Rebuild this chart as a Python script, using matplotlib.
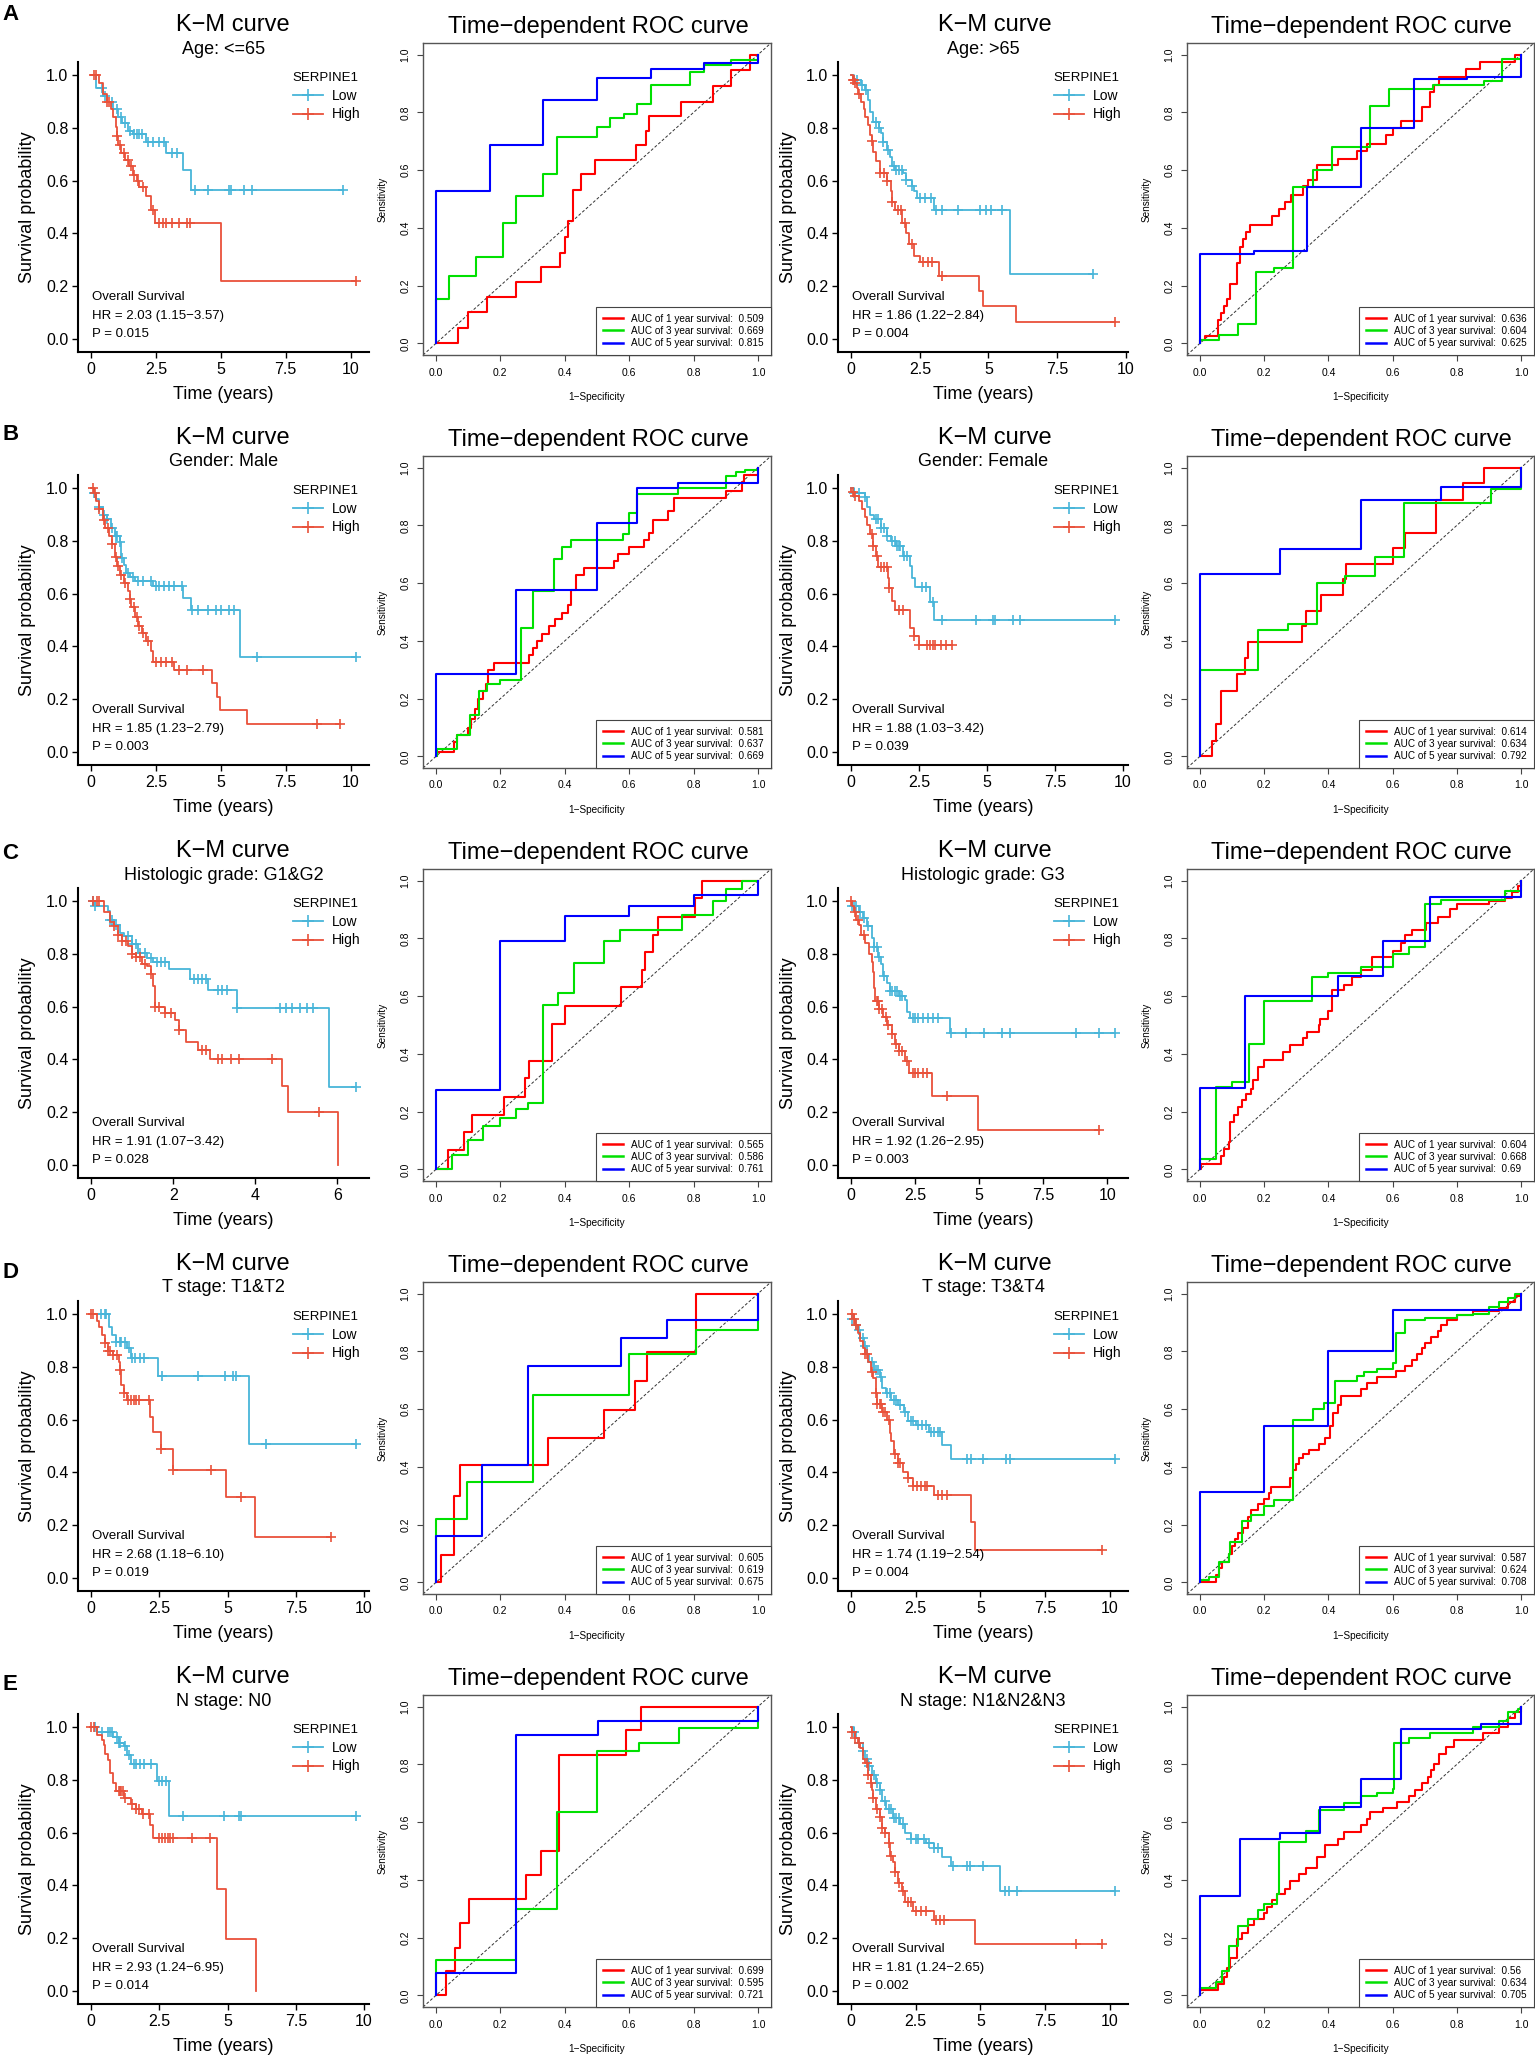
import numpy as np
import matplotlib
matplotlib.use("Agg")
import matplotlib.pyplot as plt
from matplotlib.lines import Line2D

plt.rcParams['font.family'] = ['Liberation Sans', 'DejaVu Sans']

# ---------------- K-M data: (time, survival after step) + censor times ----------------
A1_LOW = [(0.2, 0.95), (0.45, 0.92), (0.6, 0.90), (0.85, 0.87), (1.05, 0.84), (1.2, 0.82), (1.4, 0.79),
          (1.6, 0.775), (2.1, 0.745), (2.9, 0.705), (3.55, 0.64), (3.85, 0.566)]
A1_LOW_C = [0.4, 0.55, 0.8, 1.0, 1.15, 1.3, 1.5, 1.65, 1.75, 1.85, 1.95, 2.2, 2.4, 2.6, 2.8, 3.1, 3.3,
            4.0, 4.5, 5.3, 5.4, 5.9, 6.2, 9.7]
A1_HIGH = [(0.3, 0.97), (0.45, 0.93), (0.6, 0.90), (0.75, 0.87), (0.85, 0.84), (0.95, 0.805), (1.0, 0.77),
           (1.05, 0.736), (1.15, 0.704), (1.3, 0.68), (1.45, 0.655), (1.6, 0.623), (1.75, 0.60),
           (1.85, 0.575), (2.1, 0.54), (2.3, 0.49), (2.45, 0.438), (5.0, 0.22)]
A1_HIGH_C = [0.1, 0.2, 0.6, 0.7, 1.0, 1.1, 1.25, 1.4, 1.55, 1.65, 1.8, 2.0, 2.4, 2.6, 2.75, 2.9, 3.1,
             3.4, 3.7, 3.8, 10.2]

A2_LOW = [(0.1, 0.98), (0.35, 0.962), (0.5, 0.943), (0.6, 0.905), (0.7, 0.86), (0.8, 0.824), (1.0, 0.80),
          (1.1, 0.78), (1.15, 0.748), (1.3, 0.717), (1.4, 0.69), (1.5, 0.654), (1.6, 0.64), (1.9, 0.629),
          (2.0, 0.604), (2.2, 0.58), (2.3, 0.56), (2.4, 0.535), (3.0, 0.49), (5.77, 0.245)]
A2_LOW_C = [0.2, 0.4, 0.55, 0.9, 1.0, 1.15, 1.35, 1.55, 1.65, 1.75, 1.85, 2.0, 2.2, 2.5, 2.7, 2.9, 3.1,
            3.3, 3.9, 4.7, 4.9, 5.1, 5.5, 8.8]
A2_HIGH = [(0.05, 0.98), (0.15, 0.97), (0.2, 0.95), (0.25, 0.93), (0.35, 0.90), (0.45, 0.87), (0.5, 0.843),
           (0.6, 0.81), (0.7, 0.774), (0.75, 0.75), (0.8, 0.71), (0.9, 0.675), (1.05, 0.63), (1.3, 0.597),
           (1.45, 0.56), (1.5, 0.52), (1.6, 0.49), (1.85, 0.44), (2.0, 0.40), (2.1, 0.36), (2.3, 0.315),
           (2.5, 0.29), (3.2, 0.24), (4.65, 0.18), (4.8, 0.123), (6.0, 0.063)]
A2_HIGH_C = [0.05, 0.1, 0.15, 0.3, 0.75, 1.05, 1.2, 1.3, 1.5, 1.7, 1.8, 1.95, 2.2, 2.6, 2.8, 2.95, 3.3, 9.6]

B1_LOW = [(0.1, 0.98), (0.2, 0.96), (0.3, 0.93), (0.45, 0.90), (0.6, 0.885), (0.75, 0.85), (0.9, 0.82),
          (1.1, 0.794), (1.15, 0.737), (1.25, 0.71), (1.35, 0.68), (1.5, 0.662), (1.7, 0.649), (2.4, 0.63),
          (3.55, 0.583), (3.85, 0.538), (5.75, 0.359)]
B1_LOW_C = [0.1, 0.3, 0.5, 0.6, 0.8, 0.95, 1.0, 1.1, 1.2, 1.4, 1.6, 1.8, 2.0, 2.3, 2.5, 2.6, 2.8, 3.0, 3.2,
            3.5, 3.9, 4.1, 4.5, 4.8, 5.0, 5.3, 5.5, 6.4, 10.2]
B1_HIGH = [(0.1, 0.98), (0.2, 0.95), (0.3, 0.92), (0.45, 0.88), (0.55, 0.85), (0.7, 0.82), (0.8, 0.79),
           (0.9, 0.74), (1.0, 0.703), (1.1, 0.67), (1.25, 0.64), (1.4, 0.61), (1.5, 0.58), (1.55, 0.548),
           (1.7, 0.51), (1.8, 0.479), (1.95, 0.45), (2.1, 0.422), (2.3, 0.384), (2.4, 0.34), (3.2, 0.311),
           (4.65, 0.26), (4.85, 0.207), (4.95, 0.157), (6.0, 0.104)]
B1_HIGH_C = [0.05, 0.15, 0.3, 0.5, 0.65, 0.8, 0.95, 1.05, 1.15, 1.3, 1.5, 1.65, 1.75, 1.85, 2.0, 2.2, 2.5,
             2.7, 2.9, 3.1, 3.4, 3.7, 4.3, 8.7, 9.6]

B2_LOW = [(0.1, 0.98), (0.5, 0.967), (0.6, 0.93), (0.7, 0.90), (0.85, 0.883), (1.1, 0.85), (1.3, 0.82),
          (1.45, 0.80), (1.65, 0.78), (1.9, 0.744), (2.15, 0.706), (2.25, 0.66), (2.35, 0.624),
          (2.9, 0.567), (3.05, 0.501)]
B2_LOW_C = [0.1, 0.3, 0.5, 0.9, 1.0, 1.1, 1.2, 1.3, 1.5, 1.6, 1.7, 1.75, 1.8, 1.95, 2.05, 2.6, 2.75, 3.0,
            3.35, 4.6, 5.2, 5.3, 5.95, 6.2, 9.7]
B2_HIGH = [(0.0, 0.985), (0.1, 0.97), (0.3, 0.95), (0.4, 0.92), (0.5, 0.889), (0.6, 0.86), (0.7, 0.828),
           (0.8, 0.78), (0.9, 0.744), (1.0, 0.70), (1.35, 0.66), (1.4, 0.62), (1.5, 0.571), (1.6, 0.537),
           (2.15, 0.471), (2.3, 0.44), (2.5, 0.404)]
B2_HIGH_C = [0.05, 0.15, 0.75, 0.8, 0.95, 1.1, 1.2, 1.3, 1.4, 1.75, 1.9, 2.3, 2.5, 2.8, 2.9, 3.0, 3.1,
             3.3, 3.5, 3.7]

C1_LOW = [(0.1, 0.98), (0.4, 0.962), (0.45, 0.93), (0.55, 0.91), (0.7, 0.88), (0.8, 0.867), (1.0, 0.836),
          (1.15, 0.804), (1.35, 0.785), (1.5, 0.77), (1.9, 0.741), (2.4, 0.706), (2.85, 0.663),
          (3.55, 0.596), (5.8, 0.297)]
C1_LOW_C = [0.05, 0.1, 0.45, 0.5, 0.6, 0.9, 1.0, 1.1, 1.2, 1.3, 1.45, 1.6, 1.7, 1.8, 2.5, 2.6, 2.7, 2.8,
            3.1, 3.2, 3.3, 3.55, 4.6, 4.75, 4.9, 5.1, 5.25, 5.4, 6.45]
C1_HIGH = [(0.3, 0.96), (0.45, 0.92), (0.55, 0.905), (0.65, 0.87), (0.75, 0.85), (0.9, 0.83), (1.0, 0.80),
           (1.1, 0.79), (1.25, 0.76), (1.35, 0.754), (1.45, 0.722), (1.5, 0.68), (1.55, 0.60), (1.8, 0.577),
           (2.05, 0.55), (2.15, 0.51), (2.3, 0.467), (2.6, 0.434), (2.9, 0.40), (4.65, 0.299),
           (4.8, 0.202), (6.02, 0.0)]
C1_HIGH_C = [0.05, 0.15, 0.2, 0.55, 0.65, 0.75, 0.85, 1.0, 1.1, 1.2, 1.3, 1.45, 1.55, 1.65, 1.8, 1.95,
             2.15, 2.7, 2.8, 3.1, 3.2, 3.4, 3.6, 4.4, 5.55]

C2_LOW = [(0.05, 0.98), (0.3, 0.96), (0.45, 0.937), (0.6, 0.905), (0.8, 0.86), (0.9, 0.826), (1.05, 0.79),
          (1.15, 0.76), (1.25, 0.716), (1.4, 0.69), (1.5, 0.659), (1.85, 0.64), (2.1, 0.624), (2.2, 0.58),
          (2.3, 0.558), (3.85, 0.501)]
C2_LOW_C = [0.05, 0.1, 0.2, 0.35, 0.5, 0.65, 0.9, 1.0, 1.1, 1.3, 1.5, 1.6, 1.7, 1.8, 1.9, 2.0, 2.4, 2.5,
            2.6, 2.8, 3.0, 3.2, 3.4, 3.9, 4.5, 5.2, 5.9, 6.2, 8.8, 9.7, 10.3]
C2_HIGH = [(0.05, 0.98), (0.1, 0.96), (0.2, 0.93), (0.3, 0.909), (0.4, 0.87), (0.55, 0.843), (0.7, 0.80),
           (0.8, 0.77), (0.85, 0.73), (0.9, 0.669), (0.95, 0.62), (1.1, 0.59), (1.25, 0.56), (1.4, 0.53),
           (1.6, 0.495), (1.7, 0.46), (1.85, 0.432), (2.1, 0.394), (2.25, 0.35), (3.15, 0.261),
           (4.95, 0.131)]
C2_HIGH_C = [0.0, 0.15, 0.25, 0.5, 1.0, 1.05, 1.1, 1.2, 1.35, 1.45, 1.6, 1.75, 1.85, 2.0, 2.2, 2.4, 2.5,
             2.6, 2.8, 2.95, 3.75, 9.7]

D1_LOW = [(0.65, 0.952), (0.75, 0.92), (0.9, 0.895), (1.3, 0.87), (1.45, 0.835), (2.45, 0.767),
          (5.8, 0.508)]
D1_LOW_C = [0.35, 0.5, 0.55, 0.9, 1.05, 1.1, 1.25, 1.4, 1.5, 1.6, 1.8, 1.95, 2.6, 3.9, 4.9, 5.2, 5.3,
            6.4, 9.7]
D1_HIGH = [(0.2, 0.975), (0.3, 0.952), (0.4, 0.92), (0.5, 0.89), (0.6, 0.86), (0.8, 0.845), (1.0, 0.82),
           (1.05, 0.79), (1.1, 0.731), (1.2, 0.70), (1.3, 0.675), (2.15, 0.61), (2.25, 0.552),
           (2.55, 0.489), (3.0, 0.41), (4.95, 0.308), (6.0, 0.154)]
D1_HIGH_C = [0.0, 0.05, 0.5, 0.6, 0.7, 0.8, 0.95, 1.05, 1.2, 1.35, 1.45, 1.55, 1.65, 1.75, 2.1, 2.55, 3.0,
             4.4, 5.5, 8.8]

D2_LOW = [(0.05, 0.98), (0.15, 0.96), (0.25, 0.94), (0.35, 0.91), (0.5, 0.88), (0.6, 0.85), (0.7, 0.82),
          (0.9, 0.788), (1.1, 0.76), (1.2, 0.719), (1.35, 0.70), (1.55, 0.675), (1.8, 0.656), (2.05, 0.63),
          (2.2, 0.595), (2.5, 0.58), (3.0, 0.555), (3.5, 0.505), (3.85, 0.45)]
D2_LOW_C = [0.05, 0.2, 0.3, 0.45, 0.55, 0.8, 0.95, 1.05, 1.15, 1.4, 1.5, 1.65, 1.75, 1.9, 2.1, 2.3, 2.4,
            2.6, 2.75, 2.9, 3.1, 3.2, 3.35, 3.45, 4.5, 4.65, 5.1, 6.0, 6.15, 10.2]
D2_HIGH = [(0.1, 0.98), (0.15, 0.96), (0.25, 0.93), (0.35, 0.90), (0.45, 0.87), (0.55, 0.85), (0.65, 0.82),
           (0.75, 0.78), (0.85, 0.757), (0.95, 0.70), (1.0, 0.66), (1.2, 0.63), (1.4, 0.60), (1.5, 0.55),
           (1.55, 0.52), (1.65, 0.47), (1.8, 0.435), (2.0, 0.40), (2.2, 0.378), (2.4, 0.347),
           (3.2, 0.315), (4.65, 0.21), (4.8, 0.105)]
D2_HIGH_C = [0.05, 0.1, 0.2, 0.55, 0.6, 0.8, 0.95, 1.0, 1.1, 1.15, 1.25, 1.3, 1.45, 1.7, 1.8, 1.9, 2.2,
             2.4, 2.55, 2.7, 2.85, 2.95, 3.35, 3.5, 3.7, 9.7]

E1_LOW = [(0.2, 0.982), (0.8, 0.962), (1.0, 0.94), (1.2, 0.928), (1.3, 0.896), (1.45, 0.862),
          (2.4, 0.795), (2.85, 0.663)]
E1_LOW_C = [0.15, 0.4, 0.6, 0.7, 0.75, 0.95, 1.0, 1.05, 1.25, 1.4, 1.55, 1.65, 1.8, 1.95, 2.2, 2.5, 2.6,
            2.75, 3.35, 4.85, 5.4, 5.5, 9.7]
E1_HIGH = [(0.2, 0.97), (0.4, 0.95), (0.45, 0.934), (0.5, 0.90), (0.6, 0.877), (0.7, 0.827), (0.8, 0.79),
           (0.9, 0.757), (1.2, 0.732), (1.45, 0.71), (1.65, 0.69), (1.85, 0.669), (2.15, 0.63),
           (2.25, 0.58), (4.6, 0.385), (4.95, 0.196), (6.05, 0.0)]
E1_HIGH_C = [0.0, 0.1, 1.0, 1.05, 1.1, 1.15, 1.25, 1.5, 1.65, 1.75, 1.9, 2.1, 2.5, 2.6, 2.7, 2.8, 2.9,
             3.0, 3.7, 4.35]

E2_LOW = [(0.1, 0.98), (0.2, 0.96), (0.3, 0.94), (0.45, 0.909), (0.55, 0.88), (0.65, 0.852), (0.8, 0.82),
          (0.95, 0.79), (1.1, 0.76), (1.2, 0.72), (1.35, 0.689), (1.6, 0.657), (1.9, 0.631), (2.1, 0.60),
          (2.3, 0.576), (2.9, 0.56), (3.2, 0.54), (3.5, 0.509), (3.85, 0.473), (5.75, 0.379)]
E2_LOW_C = [0.1, 0.3, 0.45, 0.6, 0.7, 0.9, 1.0, 1.1, 1.3, 1.45, 1.55, 1.65, 1.75, 1.85, 2.0, 2.3, 2.5,
            2.6, 2.8, 3.0, 3.2, 3.35, 3.95, 4.5, 4.6, 5.1, 5.95, 6.1, 6.4, 10.2]
E2_HIGH = [(0.05, 0.98), (0.15, 0.96), (0.25, 0.94), (0.35, 0.922), (0.45, 0.88), (0.55, 0.865),
           (0.65, 0.82), (0.75, 0.79), (0.8, 0.76), (0.85, 0.732), (0.95, 0.689), (1.1, 0.66), (1.2, 0.619),
           (1.3, 0.60), (1.45, 0.56), (1.5, 0.51), (1.6, 0.49), (1.7, 0.45), (1.8, 0.41), (1.95, 0.38),
           (2.1, 0.338), (2.4, 0.303), (3.2, 0.268), (4.8, 0.179)]
E2_HIGH_C = [0.05, 0.15, 0.3, 0.6, 0.65, 0.75, 0.85, 1.0, 1.1, 1.2, 1.3, 1.45, 1.55, 1.7, 1.85, 2.0, 2.2,
             2.3, 2.5, 2.7, 2.9, 3.3, 3.45, 3.6, 8.7, 9.7]

# ---------------- ROC data: (1-specificity, sensitivity) step vertices ----------------
A1_R1 = [(0, 0), (0.068, 0.054), (0.1, 0.11), (0.158, 0.162), (0.248, 0.214), (0.326, 0.266), (0.386, 0.314),
         (0.40, 0.37), (0.41, 0.424), (0.424, 0.532), (0.45, 0.586), (0.493, 0.636), (0.621, 0.686),
         (0.651, 0.736), (0.66, 0.786), (0.762, 0.836), (0.86, 0.892), (0.917, 0.946), (0.975, 1.0), (1.0, 1.0)]
A1_R3 = [(0, 0), (0, 0.155), (0.042, 0.235), (0.125, 0.30), (0.207, 0.418), (0.25, 0.509), (0.333, 0.586),
         (0.376, 0.713), (0.5, 0.748), (0.54, 0.78), (0.583, 0.795), (0.625, 0.83), (0.667, 0.894),
         (0.79, 0.939), (0.833, 0.963), (0.917, 0.98), (1.0, 1.0)]
A1_R5 = [(0, 0), (0, 0.526), (0.167, 0.686), (0.333, 0.844), (0.5, 0.92), (0.667, 0.95), (0.833, 0.97),
         (1.0, 1.0)]

A2_R1 = [(0, 0), (0.0, 0.012), (0.015, 0.025), (0.055, 0.08), (0.065, 0.105), (0.075, 0.13), (0.085, 0.155),
         (0.095, 0.205), (0.115, 0.28), (0.125, 0.335), (0.135, 0.36), (0.145, 0.385), (0.155, 0.41),
         (0.225, 0.44), (0.245, 0.465), (0.265, 0.49), (0.283, 0.515), (0.32, 0.545), (0.337, 0.566),
         (0.364, 0.616), (0.43, 0.64), (0.49, 0.665), (0.52, 0.69), (0.58, 0.72), (0.6, 0.745), (0.625, 0.77),
         (0.69, 0.818), (0.715, 0.869), (0.73, 0.895), (0.745, 0.922), (0.827, 0.95), (0.873, 0.975),
         (0.98, 1.0), (1.0, 1.0)]
A2_R3 = [(0, 0), (0, 0.012), (0.061, 0.028), (0.119, 0.066), (0.176, 0.249), (0.23, 0.262), (0.29, 0.54),
         (0.352, 0.599), (0.41, 0.679), (0.53, 0.823), (0.59, 0.882), (0.727, 0.894), (0.884, 0.907),
         (0.939, 0.986), (1.0, 1.0)]
A2_R5 = [(0, 0), (0, 0.31), (0.168, 0.32), (0.334, 0.54), (0.5, 0.746), (0.666, 0.916), (0.833, 0.922),
         (1.0, 1.0)]

B1_R1 = [(0, 0), (0.005, 0.015), (0.055, 0.05), (0.065, 0.075), (0.1, 0.1), (0.11, 0.13), (0.12, 0.165),
         (0.13, 0.2), (0.145, 0.225), (0.155, 0.25), (0.162, 0.3), (0.18, 0.324), (0.29, 0.35), (0.3, 0.375),
         (0.315, 0.4), (0.33, 0.425), (0.35, 0.45), (0.37, 0.475), (0.39, 0.497), (0.41, 0.525),
         (0.42, 0.575), (0.435, 0.627), (0.46, 0.653), (0.553, 0.675), (0.565, 0.7), (0.6, 0.725),
         (0.645, 0.75), (0.66, 0.775), (0.675, 0.82), (0.72, 0.85), (0.74, 0.896), (0.9, 0.92), (0.95, 0.95),
         (0.955, 0.975), (1.0, 1.0)]
B1_R3 = [(0, 0), (0.005, 0.025), (0.065, 0.075), (0.105, 0.145), (0.135, 0.225), (0.16, 0.25), (0.2, 0.266),
         (0.265, 0.445), (0.3, 0.572), (0.365, 0.682), (0.39, 0.725), (0.42, 0.748), (0.58, 0.77),
         (0.6, 0.842), (0.625, 0.907), (0.75, 0.93), (0.9, 0.97), (0.93, 0.985), (0.96, 0.99), (1.0, 1.0)]
B1_R5 = [(0, 0), (0, 0.287), (0.25, 0.576), (0.5, 0.809), (0.625, 0.93), (0.75, 0.948), (1.0, 1.0)]

B2_R1 = [(0, 0), (0.038, 0.055), (0.05, 0.113), (0.065, 0.225), (0.115, 0.286), (0.14, 0.341),
         (0.15, 0.397), (0.318, 0.451), (0.33, 0.505), (0.378, 0.56), (0.447, 0.615), (0.455, 0.667),
         (0.6, 0.722), (0.64, 0.775), (0.735, 0.887), (0.82, 0.946), (0.885, 1.0), (1.0, 1.0)]
B2_R3 = [(0, 0), (0, 0.298), (0.181, 0.439), (0.273, 0.46), (0.364, 0.599), (0.453, 0.624), (0.545, 0.69),
         (0.636, 0.876), (0.907, 0.927), (1.0, 1.0)]
B2_R5 = [(0, 0), (0, 0.63), (0.25, 0.717), (0.5, 0.888), (0.75, 0.933), (1.0, 1.0)]

C1_R1 = [(0, 0), (0.039, 0.067), (0.087, 0.128), (0.113, 0.188), (0.212, 0.252), (0.275, 0.316),
         (0.29, 0.376), (0.361, 0.504), (0.4, 0.566), (0.576, 0.631), (0.639, 0.691), (0.65, 0.753),
         (0.675, 0.813), (0.69, 0.873), (0.805, 0.94), (0.825, 1.0), (1.0, 1.0)]
C1_R3 = [(0, 0), (0.05, 0.05), (0.1, 0.102), (0.147, 0.15), (0.2, 0.179), (0.25, 0.209), (0.285, 0.229),
         (0.332, 0.57), (0.38, 0.61), (0.43, 0.714), (0.523, 0.79), (0.57, 0.83), (0.764, 0.88),
         (0.86, 0.93), (0.9, 0.97), (0.95, 1.0), (1.0, 1.0)]
C1_R5 = [(0, 0), (0, 0.275), (0.2, 0.79), (0.4, 0.876), (0.6, 0.913), (0.8, 0.949), (1.0, 1.0)]

C2_R1 = [(0, 0), (0.005, 0.02), (0.065, 0.045), (0.075, 0.07), (0.09, 0.095), (0.095, 0.165), (0.105, 0.19),
         (0.12, 0.215), (0.13, 0.24), (0.145, 0.26), (0.16, 0.28), (0.165, 0.31), (0.18, 0.355), (0.2, 0.38),
         (0.26, 0.405), (0.28, 0.43), (0.32, 0.455), (0.335, 0.475), (0.37, 0.5), (0.375, 0.52), (0.4, 0.55),
         (0.41, 0.62), (0.45, 0.64), (0.475, 0.665), (0.5, 0.69), (0.536, 0.737), (0.6, 0.755),
         (0.625, 0.785), (0.64, 0.81), (0.66, 0.83), (0.704, 0.853), (0.74, 0.875), (0.78, 0.903),
         (0.8, 0.92), (0.9, 0.93), (0.95, 0.94), (0.97, 0.96), (0.99, 0.98), (1.0, 1.0)]
C2_R3 = [(0, 0), (0, 0.035), (0.049, 0.287), (0.1, 0.302), (0.153, 0.435), (0.2, 0.584), (0.349, 0.666),
         (0.4, 0.681), (0.5, 0.70), (0.6, 0.746), (0.65, 0.769), (0.7, 0.92), (0.75, 0.931), (0.95, 0.963),
         (1.0, 1.0)]
C2_R5 = [(0, 0), (0, 0.281), (0.142, 0.601), (0.429, 0.668), (0.571, 0.79), (0.715, 0.943), (1.0, 1.0)]

D1_R1 = [(0, 0), (0.015, 0.095), (0.056, 0.298), (0.076, 0.405), (0.348, 0.5), (0.521, 0.598),
         (0.617, 0.699), (0.655, 0.798), (0.806, 1.0), (1.0, 1.0)]
D1_R3 = [(0, 0), (0, 0.22), (0.098, 0.347), (0.3, 0.65), (0.6, 0.79), (0.806, 0.873), (1.0, 1.0)]
D1_R5 = [(0, 0), (0, 0.16), (0.142, 0.405), (0.286, 0.748), (0.573, 0.847), (0.718, 0.91), (1.0, 1.0)]

D2_R1 = [(0, 0), (0.05, 0.025), (0.06, 0.05), (0.07, 0.07), (0.09, 0.1), (0.1, 0.125), (0.11, 0.15),
         (0.12, 0.17), (0.135, 0.19), (0.15, 0.225), (0.16, 0.25), (0.18, 0.27), (0.2, 0.29), (0.215, 0.31),
         (0.22, 0.33), (0.28, 0.36), (0.29, 0.39), (0.3, 0.41), (0.31, 0.43), (0.32, 0.445), (0.34, 0.46),
         (0.37, 0.48), (0.39, 0.5), (0.405, 0.54), (0.413, 0.585), (0.43, 0.615), (0.44, 0.645), (0.5, 0.67),
         (0.52, 0.69), (0.55, 0.71), (0.61, 0.731), (0.64, 0.75), (0.66, 0.77), (0.675, 0.79), (0.69, 0.81),
         (0.7, 0.83), (0.72, 0.85), (0.74, 0.87), (0.75, 0.89), (0.77, 0.91), (0.8, 0.925), (0.85, 0.94),
         (0.93, 0.95), (0.96, 0.97), (0.98, 0.99), (1.0, 1.0)]
D2_R3 = [(0, 0), (0, 0.01), (0.03, 0.02), (0.06, 0.07), (0.09, 0.1), (0.095, 0.14), (0.13, 0.214),
         (0.16, 0.235), (0.2, 0.265), (0.23, 0.286), (0.291, 0.564), (0.352, 0.601), (0.385, 0.62),
         (0.42, 0.699), (0.49, 0.715), (0.51, 0.73), (0.55, 0.74), (0.6, 0.76), (0.61, 0.864), (0.64, 0.91),
         (0.7, 0.915), (0.8, 0.925), (0.85, 0.93), (0.9, 0.955), (0.93, 0.97), (0.96, 0.985), (0.98, 1.0),
         (1.0, 1.0)]
D2_R5 = [(0, 0), (0, 0.312), (0.2, 0.541), (0.398, 0.8), (0.6, 0.942), (1.0, 1.0)]

E1_R1 = [(0, 0), (0.03, 0.083), (0.06, 0.165), (0.075, 0.251), (0.103, 0.333), (0.28, 0.416), (0.325, 0.5),
         (0.382, 0.832), (0.59, 0.919), (0.636, 1.0), (1.0, 1.0)]
E1_R3 = [(0, 0), (0, 0.121), (0.25, 0.3), (0.377, 0.636), (0.5, 0.846), (0.629, 0.875), (0.756, 0.927),
         (1.0, 1.0)]
E1_R5 = [(0, 0), (0, 0.079), (0.25, 0.9), (0.503, 0.95), (1.0, 1.0)]

E2_R1 = [(0, 0), (0, 0.02), (0.055, 0.04), (0.075, 0.065), (0.085, 0.095), (0.095, 0.13), (0.115, 0.195),
         (0.13, 0.215), (0.15, 0.245), (0.17, 0.265), (0.2, 0.285), (0.21, 0.305), (0.225, 0.33),
         (0.24, 0.35), (0.265, 0.37), (0.28, 0.395), (0.31, 0.42), (0.33, 0.44), (0.365, 0.48), (0.39, 0.52),
         (0.43, 0.54), (0.45, 0.565), (0.5, 0.59), (0.52, 0.61), (0.53, 0.635), (0.57, 0.65), (0.615, 0.67),
         (0.65, 0.69), (0.67, 0.71), (0.69, 0.735), (0.71, 0.755), (0.72, 0.78), (0.73, 0.80),
         (0.745, 0.835), (0.765, 0.86), (0.79, 0.885), (0.88, 0.91), (0.93, 0.93), (0.96, 0.96),
         (0.98, 0.98), (1.0, 1.0)]
E2_R3 = [(0, 0), (0, 0.025), (0.05, 0.045), (0.07, 0.085), (0.09, 0.17), (0.12, 0.24), (0.15, 0.265),
         (0.18, 0.295), (0.2, 0.315), (0.24, 0.35), (0.245, 0.532), (0.33, 0.57), (0.37, 0.642), (0.45, 0.665),
         (0.5, 0.69), (0.55, 0.70), (0.6, 0.715), (0.605, 0.875), (0.65, 0.89), (0.715, 0.91), (0.85, 0.93),
         (0.93, 0.95), (0.96, 0.98), (0.99, 0.99), (1.0, 1.0)]
E2_R5 = [(0, 0), (0, 0.345), (0.126, 0.541), (0.25, 0.561), (0.375, 0.653), (0.5, 0.749), (0.625, 0.922),
         (0.876, 0.94), (1.0, 1.0)]

# ---------------- labels ----------------
LETTERS = ['A', 'B', 'C', 'D', 'E']
SUBTITLES = [['Age: <=65', 'Age: >65'],
             ['Gender: Male', 'Gender: Female'],
             ['Histologic grade: G1&G2', 'Histologic grade: G3'],
             ['T stage: T1&T2', 'T stage: T3&T4'],
             ['N stage: N0', 'N stage: N1&N2&N3']]
HR_TEXT = [['HR = 2.03 (1.15\u22123.57)', 'HR = 1.86 (1.22\u22122.84)'],
           ['HR = 1.85 (1.23\u22122.79)', 'HR = 1.88 (1.03\u22123.42)'],
           ['HR = 1.91 (1.07\u22123.42)', 'HR = 1.92 (1.26\u22122.95)'],
           ['HR = 2.68 (1.18\u22126.10)', 'HR = 1.74 (1.19\u22122.54)'],
           ['HR = 2.93 (1.24\u22126.95)', 'HR = 1.81 (1.24\u22122.65)']]
P_TEXT = [['0.015', '0.004'], ['0.003', '0.039'], ['0.028', '0.003'], ['0.019', '0.004'], ['0.014', '0.002']]
AUC = [[('0.509', '0.669', '0.815'), ('0.636', '0.604', '0.625')],
       [('0.581', '0.637', '0.669'), ('0.614', '0.634', '0.792')],
       [('0.565', '0.586', '0.761'), ('0.604', '0.668', '0.69')],
       [('0.605', '0.619', '0.675'), ('0.587', '0.624', '0.708')],
       [('0.699', '0.595', '0.721'), ('0.56', '0.634', '0.705')]]
KM_XTICKS = [[[0, 2.5, 5, 7.5, 10]] * 2,
             [[0, 2.5, 5, 7.5, 10]] * 2,
             [[0, 2, 4, 6], [0, 2.5, 5, 7.5, 10]],
             [[0, 2.5, 5, 7.5, 10]] * 2,
             [[0, 2.5, 5, 7.5, 10]] * 2]

KM = [[(A1_LOW, A1_LOW_C, A1_HIGH, A1_HIGH_C), (A2_LOW, A2_LOW_C, A2_HIGH, A2_HIGH_C)],
      [(B1_LOW, B1_LOW_C, B1_HIGH, B1_HIGH_C), (B2_LOW, B2_LOW_C, B2_HIGH, B2_HIGH_C)],
      [(C1_LOW, C1_LOW_C, C1_HIGH, C1_HIGH_C), (C2_LOW, C2_LOW_C, C2_HIGH, C2_HIGH_C)],
      [(D1_LOW, D1_LOW_C, D1_HIGH, D1_HIGH_C), (D2_LOW, D2_LOW_C, D2_HIGH, D2_HIGH_C)],
      [(E1_LOW, E1_LOW_C, E1_HIGH, E1_HIGH_C), (E2_LOW, E2_LOW_C, E2_HIGH, E2_HIGH_C)]]
ROC = [[(A1_R1, A1_R3, A1_R5), (A2_R1, A2_R3, A2_R5)],
       [(B1_R1, B1_R3, B1_R5), (B2_R1, B2_R3, B2_R5)],
       [(C1_R1, C1_R3, C1_R5), (C2_R1, C2_R3, C2_R5)],
       [(D1_R1, D1_R3, D1_R5), (D2_R1, D2_R3, D2_R5)],
       [(E1_R1, E1_R3, E1_R5), (E2_R1, E2_R3, E2_R5)]]

LOW_COL = '#48B5D9'
HIGH_COL = '#E9513A'
ROC_COLS = ['#FF0000', '#00E000', '#0000FF']

# ---------------- layout (pixels) ----------------
W, H = 1535, 2057
ROW = 413
KM_X = [(78, 369), (838, 1128)]
KM_TITLE_DX = [9, 12]
LEG_X = [0.705, 0.71]
ROC_X = [(423, 771), (1187, 1534)]
LETTER_Y = [15, 435, 854, 1273, 1685]


def rect(l, t, r, b):
    return [l / W, 1 - b / H, (r - l) / W, (b - t) / H]


def km_curve(steps):
    t = [0.0] + [p[0] for p in steps]
    s = [1.0] + [p[1] for p in steps]
    return np.array(t), np.array(s)


def surv_at(t, s, tc):
    idx = np.searchsorted(t, tc, side='right') - 1
    return s[idx]


fig = plt.figure(figsize=(W / 100, H / 100), dpi=100)

for r in range(5):
    oy = r * ROW
    fig.text(2 / W, 1 - LETTER_Y[r] / H, LETTERS[r], fontsize=16, fontweight='bold',
             ha='left', va='center')
    for c in range(2):
        # ---------- K-M panel ----------
        l, rr = KM_X[c]
        ax = fig.add_axes(rect(l, 62 + oy, rr, 352 + oy))
        low, low_c, high, high_c = KM[r][c]
        tmax = 0
        for steps, cens, col in [(low, low_c, LOW_COL), (high, high_c, HIGH_COL)]:
            t, s = km_curve(steps)
            tend = max(t[-1], max(cens))
            tmax = max(tmax, tend)
            ax.step(np.append(t, tend), np.append(s, s[-1]), where='post', color=col, lw=1.3)
            ax.plot(cens, surv_at(t, s, np.array(cens)), ls='none', marker='+', ms=7.5, mew=1.2,
                    color=col)
        ax.set_xlim(-0.05 * tmax, 1.05 * tmax)
        ax.set_ylim(-0.05, 1.05)
        ax.set_xticks(KM_XTICKS[r][c])
        ax.set_xticklabels([('%g' % v) for v in KM_XTICKS[r][c]])
        ax.set_yticks([0, 0.2, 0.4, 0.6, 0.8, 1.0])
        ax.set_yticklabels(['0.0', '0.2', '0.4', '0.6', '0.8', '1.0'])
        for sp in ['top', 'right']:
            ax.spines[sp].set_visible(False)
        for sp in ['left', 'bottom']:
            ax.spines[sp].set_linewidth(1.5)
        ax.tick_params(labelsize=11.5, length=4, width=1.0, pad=3)
        ax.set_xlabel('Time (years)', fontsize=13)
        ax.set_ylabel('Survival probability', fontsize=13)
        ax.xaxis.set_label_coords(0.5, -0.118)
        ax.yaxis.set_label_coords(-0.143, 0.5)
        handles = [Line2D([], [], color=LOW_COL, lw=1.3, marker='+', ms=9, mew=1.2),
                   Line2D([], [], color=HIGH_COL, lw=1.3, marker='+', ms=9, mew=1.2)]
        ax.legend(handles, ['Low', 'High'], title='SERPINE1', loc='upper left',
                  bbox_to_anchor=(LEG_X[c], 1.0), frameon=False, fontsize=10, title_fontsize=9.5,
                  handlelength=2.2, handletextpad=0.6, labelspacing=0.35, borderpad=0.2,
                  alignment='left')
        ax.text(0.047, 0.19, 'Overall Survival', transform=ax.transAxes, fontsize=9.5, va='center')
        ax.text(0.047, 0.124, HR_TEXT[r][c], transform=ax.transAxes, fontsize=9.5, va='center')
        ax.text(0.047, 0.062, 'P = ' + P_TEXT[r][c], transform=ax.transAxes, fontsize=9.5, va='center')
        cx = (l + rr) / 2
        fig.text((cx + KM_TITLE_DX[c]) / W, 1 - (25 + oy) / H, 'K\u2212M curve', fontsize=17,
                 ha='center', va='center')
        fig.text(cx / W, 1 - (49 + oy) / H, SUBTITLES[r][c], fontsize=13, ha='center', va='center')

        # ---------- ROC panel ----------
        l2, r2 = ROC_X[c]
        ax2 = fig.add_axes(rect(l2, 43 + oy, r2, 355 + oy))
        ax2.plot([-0.04, 1.04], [-0.04, 1.04], ls=(0, (3, 2)), color='#333333', lw=0.7)
        labels = []
        for k, (pts, col, yr) in enumerate(zip(ROC[r][c], ROC_COLS, ['1', '3', '5'])):
            xs = [p[0] for p in pts]
            ys = [p[1] for p in pts]
            ax2.step(xs, ys, where='post', color=col, lw=1.5)
            labels.append('AUC of %s year survival:  %s' % (yr, AUC[r][c][k]))
        ax2.set_xlim(-0.04, 1.04)
        ax2.set_ylim(-0.04, 1.04)
        ticks = [0, 0.2, 0.4, 0.6, 0.8, 1.0]
        ax2.set_xticks(ticks)
        ax2.set_yticks(ticks)
        ax2.set_xticklabels(['%.1f' % v for v in ticks])
        ax2.set_yticklabels(['%.1f' % v for v in ticks], rotation=90, va='center')
        ax2.tick_params(labelsize=7.5, length=4, width=0.8, pad=5, color='#444444')
        for sp in ax2.spines.values():
            sp.set_color('#555555')
            sp.set_linewidth(1.0)
        ax2.set_xlabel('1\u2212Specificity', fontsize=7.2)
        ax2.set_ylabel('Sensitivity', fontsize=7.2)
        ax2.xaxis.set_label_coords(0.5, -0.118)
        ax2.yaxis.set_label_coords(-0.103, 0.5)
        hl = [Line2D([], [], color=col, lw=1.8) for col in ROC_COLS]
        leg = ax2.legend(hl, labels, loc='lower right', borderaxespad=0, fontsize=7.2,
                         handlelength=2.0, handletextpad=0.8, labelspacing=0.22, borderpad=0.7,
                         fancybox=False, framealpha=1)
        leg.get_frame().set_edgecolor('#444444')
        leg.get_frame().set_linewidth(0.8)
        fig.text(((l2 + r2) / 2 + 1) / W, 1 - (27 + oy) / H, 'Time\u2212dependent ROC curve',
                 fontsize=17, ha='center', va='center')

fig.savefig('out.png', dpi=100)
